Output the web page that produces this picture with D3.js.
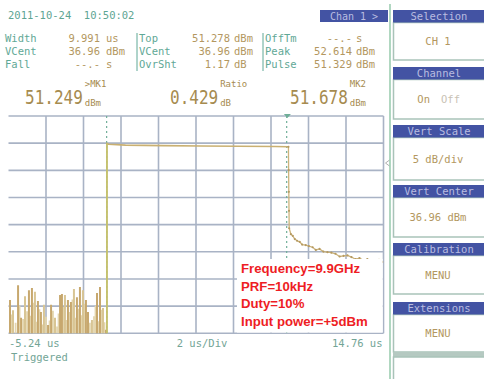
<!DOCTYPE html>
<html><head><meta charset="utf-8">
<script src="https://cdn.jsdelivr.net/npm/d3@7"></script>
<style>html,body{margin:0;padding:0;background:#fff}svg{display:block}</style>
</head><body>
<svg id="scope" width="484" height="379"></svg>
<script>
// Time base and vertical settings of the trace window
const timeStart = -5.24, timeEnd = 14.76, timePerDiv = 2;
const vertCenter = 36.96, dbPerDiv = 5, vertDivs = 8;
const floorLevel = 15; // below the visible window

// Pre-trigger noise spikes (time in us, peak level in dBm)
const noiseTime = [-5.16,-5.00,-4.73,-4.57,-4.36,-4.15,-3.99,-3.83,-3.67,-3.51,-3.35,-3.13,-2.97,-2.76,-2.49,-2.39,-2.23,-2.07,-1.91,-1.75,-1.59,-1.43,-1.27,-1.11,-1.00,-0.79,-0.52,-0.36,-0.20,-0.04];
const noisePeak = [23.1,21.2,25.8,19.8,23.8,24.9,25.3,24.6,22.9,20.9,22.2,18.5,22.2,19.8,24.0,24.2,24.0,23.1,22.7,25.1,23.6,25.5,24.9,23.1,20.9,19.4,24.4,25.5,21.6,17.6];
// lower in-between samples
const noiseTime2 = [-5.08,-4.86,-4.65,-4.46,-4.25,-4.07,-3.91,-3.75,-3.59,-3.43,-3.24,-3.05,-2.87,-2.65,-2.57,-2.31,-2.15,-1.99,-1.83,-1.67,-1.51,-1.35,-1.19,-0.90,-0.68,-0.60,-0.44,-0.28,-0.12];
const noisePeak2 = [20.4,18.9,22.1,19.6,21.0,20.2,22.6,19.1,21.4,18.6,20.0,19.3,21.1,18.2,20.6,21.8,19.4,20.9,23.2,19.8,21.5,20.3,22.4,18.9,20.1,22.0,19.2,21.3,19.0];

// Pulse envelope: rise, top, fall
const pulseTime  = [0.01, 0.01, 0.10, 1.0, 3.0, 5.0, 7.0, 9.0, 9.66, 9.69];
const pulseLevel = [floorLevel, 51.9, 51.75, 51.6, 51.5, 51.45, 51.4, 51.35, 51.3, 51.28];

// Trailing edge and decay tail
const tailTime  = [9.69, 9.70, 9.71, 9.72, 9.73, 9.82, 9.92, 10.03, 10.15, 10.29, 10.42, 10.61, 10.78, 10.98, 11.15, 11.35, 11.55, 11.77, 11.98, 12.20, 12.42, 12.63, 12.84, 13.05, 13.27, 13.48, 13.69, 13.90, 14.12, 14.33, 14.52, 14.70];
const tailLevel = [51.28, 47.0, 43.0, 39.5, 36.3, 35.2, 34.9, 34.3, 34.0, 33.8, 33.3, 33.2, 33.0, 32.8, 32.3, 32.5, 32.0, 31.9, 31.8, 31.6, 31.1, 31.2, 31.3, 31.0, 30.6, 30.8, 30.4, 30.6, 30.2, 30.3, 30.5, 30.1];

// Markers (us)
const markerTime = [0.01, 9.66];

// Measurement readouts
const colLabels = [["Width","VCent","Fall"],["Top","VCent","OvrSht"],["OffTm","Peak","Pulse"]];
const colNumbers = [["9.991","36.96","--.-"],["51.278","36.96","1.17"],["--.-","52.614","51.329"]];
const colUnits = [["us","dBm","s"],["dBm","dBm","dB"],["s","dBm","dBm"]];
const bigValues = ["51.249","0.429","51.678"];
const bigSup = [">MK1","Ratio","MK2"];
const bigSub = ["dBm","dB","dBm"];

// Soft-key menu
const menuTitles = ["Selection","Channel","Vert Scale","Vert Center","Calibration","Extensions"];
const menuValues = ["CH 1","On","5 dB/div","36.96 dBm","MENU","MENU"];

// Annotation
const noteLines = ["Frequency=9.9GHz","PRF=10kHz","Duty=10%","Input power=+5dBm"];

const svg = d3.select("#scope");
const mono = "'DejaVu Sans Mono', 'Liberation Mono', monospace";
const cLabel = "#5fa896", cValue = "#b39760", cBig = "#a68b4f", cHead = "#4353a3", cHeadText = "#b9bce0", cBox = "#a9c3b9";

svg.append("rect").attr("width",484).attr("height",379).attr("fill","#fff");

// ---- plot window ----
const plotL = 8.5, plotR = 383.5, plotT = 116, plotB = 333.3;
const x = d3.scaleLinear().domain([timeStart, timeEnd]).range([plotL, plotR]);
const y = d3.scaleLinear().domain([vertCenter - dbPerDiv*vertDivs/2, vertCenter + dbPerDiv*vertDivs/2]).range([plotB, plotT]);

svg.append("clipPath").attr("id","win").append("rect")
  .attr("x",plotL).attr("y",plotT).attr("width",plotR-plotL).attr("height",plotB-plotT);

const vTicks = d3.range(1, 11).map(i => timeStart + i*timePerDiv);
const hTicks = d3.range(0, vertDivs+1).map(i => y.domain()[0] + i*dbPerDiv);
const grid = svg.append("g").attr("stroke","#a9b3c5").attr("stroke-width",1.6);
grid.selectAll("line.v").data(vTicks).join("line").attr("class","v")
  .attr("x1",d=>x(d)).attr("x2",d=>x(d)).attr("y1",plotT).attr("y2",plotB);
grid.selectAll("line.h").data(hTicks).join("line").attr("class","h")
  .attr("x1",plotL).attr("x2",plotR).attr("y1",d=>y(d)).attr("y2",d=>y(d));

const trace = svg.append("g").attr("clip-path","url(#win)");

// noise spikes
trace.selectAll("line.n2").data(noiseTime2).join("line").attr("class","n2")
  .attr("x1",d=>x(d)).attr("x2",d=>x(d))
  .attr("y1",y(floorLevel)).attr("y2",(d,i)=>y(noisePeak2[i]))
  .attr("stroke","#e3d5ad").attr("stroke-width",1.8);
trace.selectAll("line.n").data(noiseTime).join("line").attr("class","n")
  .attr("x1",d=>x(d)).attr("x2",d=>x(d))
  .attr("y1",y(floorLevel)).attr("y2",(d,i)=>y(noisePeak[i]))
  .attr("stroke",(d,i)=> i%3===1 ? "#d8c594" : "#c7a86e").attr("stroke-width",2);

// marker lines
trace.selectAll("line.m").data(markerTime).join("line").attr("class","m")
  .attr("x1",(d,i)=>x(d)-(i?1.2:0.3)).attr("x2",(d,i)=>x(d)-(i?1.2:0.3)).attr("y1",plotT).attr("y2",plotB)
  .attr("stroke","#6fae98").attr("stroke-width",1.2).attr("stroke-dasharray","2,3");

// pulse
const line = d3.line().x(d=>x(d[0])).y(d=>y(d[1]));
trace.append("path").datum(pulseTime.map((t,i)=>[t,pulseLevel[i]]))
  .attr("d",line).attr("fill","none").attr("stroke","#c9b071").attr("stroke-width",1.6);
trace.append("line").attr("x1",x(pulseTime[0])).attr("x2",x(pulseTime[0]))
  .attr("y1",y(pulseLevel[1])).attr("y2",plotB).attr("stroke","#c3c66a").attr("stroke-width",1.4);
trace.append("path").datum(tailTime.map((t,i)=>[t,tailLevel[i]]))
  .attr("d",line).attr("fill","none").attr("stroke","#cdb47c").attr("stroke-width",1.3);
trace.selectAll("circle.t").data(tailTime).join("circle").attr("class","t")
  .attr("cx",d=>x(d)).attr("cy",(d,i)=>y(tailLevel[i])).attr("r",1.1).attr("fill","#b59a62");

// marker flag and reference pointer
svg.append("path").attr("d",`M${x(markerTime[1])-4},${plotT-2}L${x(markerTime[1])+3},${plotT-2}L${x(markerTime[1])-0.5},${plotT+2}Z`).attr("fill","#6fae98");
svg.append("path").attr("d",`M${plotR+6},${y(48.3)-3}L${plotR+2},${y(48.3)}L${plotR+6},${y(48.3)+3}`).attr("fill","none").attr("stroke","#b0b0b0").attr("stroke-width",1);

// annotation box
svg.append("rect").attr("x",237).attr("y",259).attr("width",plotR-237-0.8).attr("height",plotB-259-0.8).attr("fill","#fff");
svg.append("g").selectAll("text").data(noteLines).join("text")
  .attr("x",241).attr("y",(d,i)=>273+i*17.6)
  .attr("font-family","'Liberation Sans', Arial, sans-serif").attr("font-weight","bold").attr("font-size",13.2)
  .attr("fill","#ee1d24").text(d=>d);

// time axis text
const axisText = svg.append("g").attr("font-family",mono).attr("font-size",10.5).attr("fill","#73a596");
axisText.append("text").attr("x",9).attr("y",347).text(`${timeStart.toFixed(2)} us`);
axisText.append("text").attr("x",x((timeStart+timeEnd)/2)+6).attr("y",347).attr("text-anchor","middle").text(`${timePerDiv} us/Div`);
axisText.append("text").attr("x",plotR-1).attr("y",347).attr("text-anchor","end").text(`${timeEnd.toFixed(2)} us`);
axisText.append("text").attr("x",11).attr("y",361).text("Triggered");

// ---- header readouts ----
svg.append("text").attr("x",8).attr("y",19).attr("font-family",mono).attr("font-size",10.5)
  .attr("fill","#5ea593").attr("xml:space","preserve").text("2011-10-24  10:50:02");

const colX = [5, 139, 265], numRight = [100, 230, 352], unitX = [106, 234, 356];
const rowY = [42, 55, 68];
colLabels.forEach((labs, c) => {
  const g = svg.append("g").attr("font-family",mono).attr("font-size",10.5);
  g.selectAll("text.l").data(labs).join("text").attr("class","l")
    .attr("x",colX[c]).attr("y",(d,i)=>rowY[i]).attr("fill",cLabel).text(d=>d);
  g.selectAll("text.v").data(colNumbers[c]).join("text").attr("class","v")
    .attr("x",numRight[c]).attr("y",(d,i)=>rowY[i]).attr("text-anchor","end").attr("fill",cValue).text(d=>d);
  g.selectAll("text.u").data(colUnits[c]).join("text").attr("class","u")
    .attr("x",unitX[c]).attr("y",(d,i)=>rowY[i]).attr("fill",cValue).text(d=>d);
});
svg.append("g").attr("stroke",cLabel).attr("stroke-width",1).selectAll("line").data([137, 263]).join("line")
  .attr("x1",d=>d).attr("x2",d=>d).attr("y1",33).attr("y2",71);

// large marker readings, drawn condensed
const bigX = [25, 170, 290], bigScale = 0.8, bigCharW = 20 * 0.602 * bigScale;
bigValues.forEach((v, i) => {
  const w = v.length * bigCharW;
  svg.append("text").attr("transform",`translate(${bigX[i]},104) scale(${bigScale},1)`)
    .attr("font-family",mono).attr("font-size",20).attr("fill",cBig).text(v);
  svg.append("text").attr("x",bigX[i]+w+2).attr("y",87).attr("font-family",mono).attr("font-size",9)
    .attr("fill",cBig).text(bigSup[i]);
  svg.append("text").attr("x",bigX[i]+w+2).attr("y",106).attr("font-family",mono).attr("font-size",9)
    .attr("fill",cBig).text(bigSub[i]);
});

// ---- soft-key column ----
svg.append("line").attr("x1",390).attr("x2",390).attr("y1",4).attr("y2",379).attr("stroke","#8fc6a6").attr("stroke-width",1.4);
svg.append("rect").attr("x",320).attr("y",10).attr("width",68).attr("height",12).attr("fill",cHead);
svg.append("text").attr("x",354).attr("y",19.5).attr("text-anchor","middle").attr("font-family",mono).attr("font-size",10)
  .attr("fill",cHeadText).text("Chan 1 >");

const headY = [10, 67, 125, 185, 243, 302];
const boxB = [60, 119, 180, 237, 294, 352];
menuTitles.forEach((t, i) => {
  const top = headY[i], hb = top + 12.5;
  svg.append("rect").attr("x",393.5).attr("y",hb).attr("width",95).attr("height",boxB[i]-hb)
    .attr("fill","#fff").attr("stroke",cBox).attr("stroke-width",1.5);
  svg.append("rect").attr("x",393).attr("y",top).attr("width",91).attr("height",12.5).attr("fill",cHead);
  svg.append("text").attr("x",439).attr("y",top+9.5).attr("text-anchor","middle").attr("font-family",mono)
    .attr("font-size",10.5).attr("fill",cHeadText).text(t);
  const ty = (hb + boxB[i]) / 2 + 4;
  if (i === 1) {
    svg.append("text").attr("x",430).attr("y",ty).attr("text-anchor","end").attr("font-family",mono).attr("font-size",10.5)
      .attr("fill",cValue).text(menuValues[i]);
    svg.append("text").attr("x",441).attr("y",ty).attr("font-family",mono).attr("font-size",10.5)
      .attr("fill","#c9c2b4").text("Off");
  } else {
    svg.append("text").attr("x",438).attr("y",ty).attr("text-anchor","middle").attr("font-family",mono).attr("font-size",10.5)
      .attr("fill",cValue).text(menuValues[i]);
  }
});
svg.append("rect").attr("x",393).attr("y",352).attr("width",91).attr("height",5).attr("fill","#b5c9c1");
svg.append("rect").attr("x",393.5).attr("y",357).attr("width",95).attr("height",25).attr("fill","#fff").attr("stroke",cBox).attr("stroke-width",1.5);
</script>
</body></html>
